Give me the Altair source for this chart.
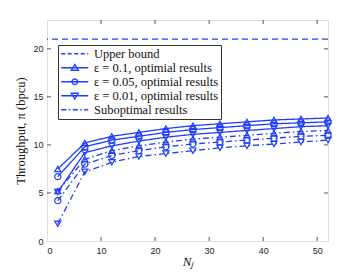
import altair as alt
import pandas as pd

BLUE = "#1f3cff"

N = [2, 7, 12, 17, 22, 27, 32, 37, 42, 47, 52]
opt_01 = [7.5, 10.2, 10.9, 11.3, 11.7, 12.0, 12.2, 12.4, 12.6, 12.7, 12.8]
opt_005 = [6.7, 9.8, 10.5, 10.9, 11.3, 11.6, 11.8, 12.0, 12.2, 12.3, 12.4]
opt_001 = [5.1, 9.2, 9.9, 10.4, 10.8, 11.1, 11.3, 11.5, 11.7, 11.9, 12.0]
sub_01 = [5.2, 8.5, 9.4, 9.9, 10.3, 10.6, 10.8, 11.0, 11.2, 11.4, 11.5]
sub_005 = [4.2, 8.0, 8.9, 9.4, 9.8, 10.1, 10.3, 10.5, 10.7, 10.9, 11.0]
sub_001 = [1.8, 7.2, 8.2, 8.8, 9.1, 9.4, 9.7, 9.9, 10.1, 10.3, 10.5]
upper_bound = [21]

x_ticks = [0, 10, 20, 30, 40, 50]
y_ticks = [0, 5, 10, 15, 20]

legend_labels = [
    "Upper bound",
    "\u03b5 = 0.1, optimial results",
    "\u03b5 = 0.05, optimial results",
    "\u03b5 = 0.01, optimial results",
    "Suboptimal results",
]

series = [
    ("opt_01", opt_01, "up", "solid"),
    ("opt_005", opt_005, "circle", "solid"),
    ("opt_001", opt_001, "down", "solid"),
    ("sub_01", sub_01, "up", "dashdot"),
    ("sub_005", sub_005, "circle", "dashdot"),
    ("sub_001", sub_001, "down", "dashdot"),
]
rows = []
for name, vals, mk, ds in series:
    for n, v in zip(N, vals):
        rows.append({"N": n, "value": v, "series": name, "marker": mk, "dash": ds})
df = pd.DataFrame(rows)

W, H = 281, 221
xs = alt.Scale(domain=[0, 52], nice=False, zero=False)
ys = alt.Scale(domain=[0, 23], nice=False)

xax = alt.Axis(values=x_ticks, ticks=False, domain=False, grid=False,
               labelFont="Liberation Sans", labelFontSize=9, labelColor="#222",
               labelPadding=5, title="N\u2C7C", titleFont="Liberation Serif",
               titleFontSize=13, titleFontStyle="italic", titleFontWeight="normal",
               titlePadding=0, titleColor="#111")
yax = alt.Axis(values=y_ticks, ticks=False, domain=False, grid=False,
               labelFont="Liberation Sans", labelFontSize=9, labelColor="#222",
               labelPadding=4, title="Throughput, \u03c0 (bpcu)",
               titleFont="Liberation Serif", titleFontSize=12.5,
               titleFontWeight="normal", titlePadding=5, titleColor="#111")

dashdot = [6, 3, 1.5, 3]

upper = alt.Chart(pd.DataFrame({"value": upper_bound})).mark_rule(
    color=BLUE, strokeWidth=1.3, strokeDash=[6, 4]
).encode(y=alt.Y("value:Q", scale=ys, axis=yax))

lines = alt.Chart(df).mark_line(color=BLUE, strokeWidth=1.3).encode(
    x=alt.X("N:Q", scale=xs, axis=xax),
    y=alt.Y("value:Q", scale=ys, axis=yax),
    detail="series:N",
    strokeDash=alt.StrokeDash("dash:N", scale=alt.Scale(domain=["solid", "dashdot"], range=[[1, 0], dashdot]), legend=None),
)

points = alt.Chart(df).mark_point(color=BLUE, filled=False, size=38, strokeWidth=1.2, opacity=1).encode(
    x=alt.X("N:Q", scale=xs, axis=xax),
    y=alt.Y("value:Q", scale=ys, axis=yax),
    shape=alt.Shape("marker:N", scale=alt.Scale(domain=["up", "circle", "down"], range=["triangle-up", "circle", "triangle-down"]), legend=None),
)

# legend symbol paths: unit = sqrt(symbolSize)/2 = 5 px
line_p = "M-2.7,0L2.7,0"
tri_up = "M0,-0.65L0.7,0.5L-0.7,0.5Z"
circ = "M0.55,0A0.55,0.55,0,1,1,-0.55,0A0.55,0.55,0,1,1,0.55,0Z"
tri_dn = "M0,0.65L0.7,-0.5L-0.7,-0.5Z"
legend_paths = [line_p, line_p + tri_up, line_p + circ, line_p + tri_dn, line_p]
legend_dashes = [[4, 2.5], [1, 0], [1, 0], [1, 0], [5, 2.5, 1.5, 2.5]]

leg = alt.Legend(orient="none", legendX=11, legendY=25, title=None,
                 labelFont="Liberation Serif", labelFontWeight="normal")

legend_layer = alt.Chart(pd.DataFrame({"label": legend_labels})).transform_filter("false").mark_point(
    color=BLUE, filled=False, opacity=1
).encode(
    shape=alt.Shape("label:N", scale=alt.Scale(domain=legend_labels, range=legend_paths), legend=leg),
    strokeDash=alt.StrokeDash("label:N", scale=alt.Scale(domain=legend_labels, range=legend_dashes), legend=leg),
)

tick_x = pd.DataFrame({"t": x_ticks[1:]})
tick_y = pd.DataFrame({"t": y_ticks[1:]})
tcol = "#555"
tb = alt.Chart(tick_x).mark_tick(orient="vertical", size=4, thickness=1, color=tcol, opacity=1).encode(
    x=alt.X("t:Q", scale=xs, axis=xax), y=alt.value(H - 2))
tt = alt.Chart(tick_x).mark_tick(orient="vertical", size=4, thickness=1, color=tcol, opacity=1).encode(
    x=alt.X("t:Q", scale=xs, axis=xax), y=alt.value(2))
tl = alt.Chart(tick_y).mark_tick(orient="horizontal", size=4, thickness=1, color=tcol, opacity=1).encode(
    y=alt.Y("t:Q", scale=ys, axis=yax), x=alt.value(2))
tr = alt.Chart(tick_y).mark_tick(orient="horizontal", size=4, thickness=1, color=tcol, opacity=1).encode(
    y=alt.Y("t:Q", scale=ys, axis=yax), x=alt.value(W - 2))

chart = alt.layer(tb, tt, tl, tr, upper, lines, points, legend_layer).resolve_scale(
    shape="independent", strokeDash="independent"
).properties(
    width=W, height=H,
    autosize=alt.AutoSizeParams(type="none"),
    padding={"left": 39, "top": 12, "right": 26, "bottom": 30},
).configure_view(stroke="#777", strokeWidth=1).configure(
    background="white", font="Liberation Serif"
).configure_legend(
    fillColor="white", strokeColor="#333", padding=2.5,
    labelFont="Liberation Serif", labelFontSize=12.5, labelColor="#111",
    symbolSize=100, symbolStrokeWidth=1.3, symbolStrokeColor=BLUE,
    symbolFillColor="transparent", labelOffset=13, symbolOffset=8, rowPadding=1,
    labelLimit=300,
)

chart.save("out.html", embed_options={"renderer": "svg", "actions": False})
